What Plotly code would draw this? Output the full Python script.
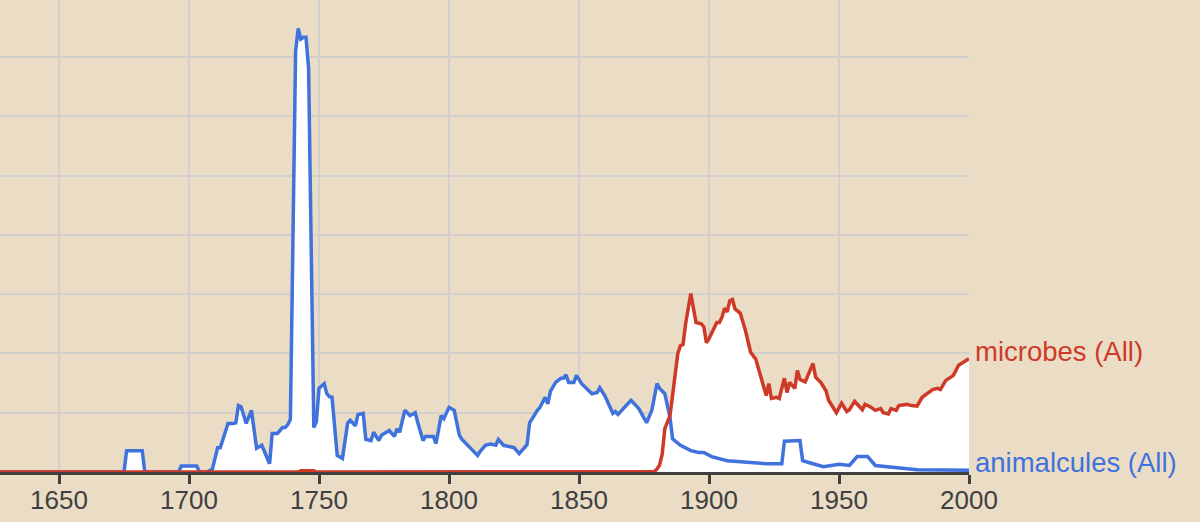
import plotly.graph_objects as go

# animalcules (All)
blue_years = [1627, 1675, 1676, 1682, 1683, 1696, 1697, 1703, 1704, 1707, 1709, 1711, 1712, 1715, 1717,
              1718, 1719, 1720, 1722, 1724, 1726, 1728, 1731, 1732, 1734, 1736, 1737, 1738, 1739, 1740,
              1741, 1742, 1743, 1744, 1745, 1746, 1747, 1748, 1749, 1750, 1751, 1752, 1753, 1754, 1755,
              1756, 1757, 1759, 1760, 1761, 1762, 1764, 1765, 1767, 1768, 1770, 1771, 1773, 1774, 1775,
              1777, 1779, 1780, 1781, 1783, 1785, 1787, 1788, 1790, 1791, 1794, 1795, 1797, 1798, 1800,
              1802, 1804, 1805, 1809, 1811, 1812, 1814, 1816, 1818, 1819, 1821, 1825, 1827, 1830, 1831,
              1834, 1835, 1837, 1838, 1839, 1841, 1843, 1844, 1845, 1846, 1848, 1849, 1851, 1853, 1855,
              1857, 1858, 1860, 1863, 1864, 1865, 1870, 1871, 1873, 1876, 1878, 1880, 1881, 1883, 1885,
              1886, 1889, 1893, 1896, 1898, 1901, 1907, 1916, 1922, 1928, 1929, 1935, 1936, 1940, 1944,
              1950, 1954, 1957, 1961, 1964, 1973, 1980, 2000]
blue_values = [0, 0, 0.36, 0.36, 0, 0, 0.1, 0.1, 0, 0, 0.05, 0.41, 0.41, 0.82, 0.82,
               0.83, 1.12, 1.1, 0.82, 1.04, 0.40, 0.45, 0.14, 0.65, 0.65, 0.75, 0.75, 0.8, 0.89, 4.0,
               7.1, 7.48, 7.3, 7.33, 7.33, 6.8, 3.8, 0.75, 0.85, 1.41, 1.45, 1.49, 1.32, 1.27, 1.26,
               0.75, 0.28, 0.23, 0.5, 0.82, 0.87, 0.78, 0.97, 0.99, 0.55, 0.53, 0.67, 0.53, 0.62, 0.65,
               0.70, 0.6, 0.73, 0.67, 1.04, 0.95, 1.0, 0.83, 0.53, 0.6, 0.6, 0.48, 0.95, 0.9, 1.09,
               1.04, 0.62, 0.55, 0.36, 0.28, 0.35, 0.45, 0.47, 0.45, 0.55, 0.45, 0.41, 0.31, 0.46, 0.83,
               1.04, 1.09, 1.26, 1.15, 1.36, 1.51, 1.58, 1.58, 1.64, 1.51, 1.51, 1.63, 1.49, 1.40, 1.32,
               1.34, 1.42, 1.28, 0.99, 1.02, 0.97, 1.21, 1.16, 1.07, 0.83, 1.04, 1.49, 1.41, 1.32, 0.92,
               0.56, 0.45, 0.36, 0.33, 0.33, 0.26, 0.19, 0.16, 0.14, 0.14, 0.52, 0.53, 0.19, 0.14, 0.09,
               0.13, 0.11, 0.26, 0.26, 0.11, 0.07, 0.04, 0.03]

# microbes (All)
red_years = [1627, 1742, 1743, 1748, 1749, 1878, 1879, 1880, 1881, 1882, 1883, 1885, 1886, 1887, 1888,
             1889, 1890, 1891, 1892, 1893, 1895, 1897, 1898, 1899, 1900, 1901, 1903, 1904, 1905, 1906,
             1907, 1908, 1909, 1910, 1912, 1914, 1916, 1918, 1920, 1922, 1923, 1924, 1926, 1927, 1929,
             1930, 1931, 1933, 1934, 1935, 1937, 1939, 1940, 1941, 1943, 1945, 1946, 1949, 1951, 1953,
             1954, 1956, 1959, 1960, 1962, 1964, 1966, 1967, 1969, 1970, 1972, 1973, 1976, 1978, 1980,
             1982, 1986, 1988, 1989, 1991, 1994, 1996, 1998, 2000]
red_values = [0, 0, 0.02, 0.02, 0, 0, 0.01, 0.05, 0.12, 0.3, 0.73, 0.95, 1.32, 1.75, 2.0,
              2.13, 2.15, 2.5, 2.8, 3.01, 2.52, 2.5, 2.45, 2.18, 2.25, 2.33, 2.52, 2.52, 2.61, 2.76,
              2.7, 2.89, 2.91, 2.75, 2.68, 2.39, 2.02, 1.9, 1.6, 1.29, 1.49, 1.24, 1.26, 1.24, 1.58,
              1.34, 1.51, 1.41, 1.71, 1.56, 1.52, 1.71, 1.83, 1.6, 1.51, 1.37, 1.21, 1.0, 1.16, 1.02,
              1.05, 1.19, 1.05, 1.14, 1.1, 1.04, 1.07, 1.0, 0.98, 1.07, 1.04, 1.12, 1.14, 1.12, 1.11,
              1.26, 1.39, 1.41, 1.39, 1.54, 1.63, 1.80, 1.85, 1.91]

tick_years = [1650, 1700, 1750, 1800, 1850, 1900, 1950, 2000]
labels = ["animalcules (All)", "microbes (All)"]

BLUE = "#3f72dd"
RED = "#cf3a28"
BG = "#eadcc5"
GRID = "#d2d0cc"
FONT = "Liberation Sans, Arial, sans-serif"

fig = go.Figure()
fig.add_trace(go.Scatter(x=blue_years, y=blue_values, mode="lines", fill="tozeroy",
                         fillcolor="white", line=dict(width=0, color="white"), hoverinfo="skip"))
fig.add_trace(go.Scatter(x=red_years, y=red_values, mode="lines", fill="tozeroy",
                         fillcolor="white", line=dict(width=0, color="white"), hoverinfo="skip"))
fig.add_trace(go.Scatter(x=blue_years, y=blue_values, mode="lines",
                         line=dict(width=3.5, color=BLUE), name=labels[0]))
fig.add_trace(go.Scatter(x=red_years, y=red_values, mode="lines",
                         line=dict(width=3.5, color=RED), name=labels[1]))

fig.add_annotation(x=2000, y=red_values[-1], xref="x", yref="y", text=labels[1],
                   showarrow=False, xanchor="left", yanchor="middle", xshift=4, yshift=7,
                   font=dict(size=27.5, color=RED, family=FONT))
fig.add_annotation(x=2000, y=blue_values[-1], xref="x", yref="y", text=labels[0],
                   showarrow=False, xanchor="left", yanchor="middle", xshift=4, yshift=8,
                   font=dict(size=27.5, color=BLUE, family=FONT))

fig.update_layout(
    width=1200, height=522,
    margin=dict(l=0, r=231, t=0, b=50, pad=0),
    paper_bgcolor=BG, plot_bgcolor=BG,
    showlegend=False,
    font=dict(family=FONT, color="#404040"),
)
fig.update_xaxes(range=[1627.3, 2000], tickvals=tick_years, ticktext=[str(t) for t in tick_years],
                 showgrid=True, gridcolor=GRID, gridwidth=1.5,
                 showline=True, linecolor="#404040", linewidth=3,
                 ticks="outside", ticklen=9, tickwidth=3, tickcolor="#404040",
                 tickfont=dict(size=26, color="#404040"), zeroline=False, fixedrange=True,
                 automargin=False, ticklabelstandoff=-6)
fig.update_yaxes(range=[0, 7.96], dtick=1, showticklabels=False, showgrid=True,
                 gridcolor=GRID, gridwidth=1.5, zeroline=False, showline=False, fixedrange=True)

fig.write_html("out.html", config={"displayModeBar": False},
               post_script="document.body.style.margin='0';document.body.style.overflow='hidden';")
